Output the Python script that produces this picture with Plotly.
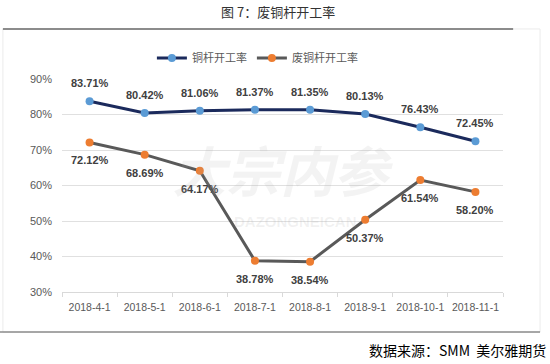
import plotly.graph_objects as go

categories = ["2018-4-1", "2018-5-1", "2018-6-1", "2018-7-1", "2018-8-1", "2018-9-1", "2018-10-1", "2018-11-1"]
copper_rod = [83.71, 80.42, 81.06, 81.37, 81.35, 80.13, 76.43, 72.45]
scrap_rod = [72.12, 68.69, 64.17, 38.78, 38.54, 50.37, 61.54, 58.20]
y_ticks = [30, 40, 50, 60, 70, 80, 90]
y_tick_labels = [f"{v}%" for v in y_ticks]

font_fam = "Liberation Sans, Noto Sans CJK SC, sans-serif"
cjk = "Noto Sans CJK SC, sans-serif"

fig = go.Figure()
fig.add_trace(go.Scatter(
    x=categories, y=copper_rod, name="铜杆开工率", mode="lines+markers",
    line=dict(color="#1B2A5C", width=3),
    marker=dict(color="#5B9BD5", size=8),
    cliponaxis=False,
))
fig.add_trace(go.Scatter(
    x=categories, y=scrap_rod, name="废铜杆开工率", mode="lines+markers",
    line=dict(color="#595959", width=3),
    marker=dict(color="#ED7D31", size=8),
    cliponaxis=False,
))

label_font = dict(size=11, color="#404040", family=font_fam, weight="bold")
for c, v in zip(categories, copper_rod):
    fig.add_annotation(x=c, y=v, text=f"{v:.2f}%", showarrow=False, yshift=18,
                       xanchor="center", yanchor="middle", font=label_font)
for c, v in zip(categories, scrap_rod):
    fig.add_annotation(x=c, y=v, text=f"{v:.2f}%", showarrow=False, yshift=-18,
                       xanchor="center", yanchor="middle", font=label_font)

fig.update_layout(
    width=550, height=364,
    margin=dict(l=62, r=47, t=79, b=72, autoexpand=False),
    paper_bgcolor="white", plot_bgcolor="white",
    showlegend=True,
    legend=dict(orientation="h", x=0.468, xref="container", xanchor="center",
                y=1 - 58 / 364, yref="container", yanchor="middle",
                font=dict(size=11, color="#595959", family=cjk),
                tracegroupgap=0, bgcolor="rgba(0,0,0,0)"),
    xaxis=dict(type="category", range=[-0.5, 7.5], showgrid=False, showline=True,
               linecolor="#D9D9D9", linewidth=1, ticks="outside", ticklen=4,
               tickcolor="#D9D9D9", tickson="boundaries", tickangle=0, automargin=False,
               ticklabelstandoff=5,
               tickfont=dict(size=10.5, color="#595959", family=font_fam)),
    yaxis=dict(range=[30, 90], tickvals=y_ticks, ticktext=y_tick_labels,
               showgrid=True, gridcolor="#E0E0E0", gridwidth=1, zeroline=False,
               showline=False, ticks="", ticklabelstandoff=9, automargin=False,
               tickfont=dict(size=11, color="#595959", family=font_fam)),
    font=dict(family=font_fam),
)

# chart frame
fig.add_shape(type="rect", xref="paper", yref="paper", x0=-0.134, x1=1.084,
              y0=-0.188, y1=1.235, line=dict(color="#EBEBEB", width=1), layer="below")
fig.add_shape(type="line", xref="paper", yref="paper", x0=-0.134, x1=1.023,
              y0=1.235, y1=1.235, line=dict(color="#8C8C8C", width=2), layer="below")
fig.add_shape(type="line", xref="paper", yref="paper", x0=-0.15, x1=1.084,
              y0=-0.188, y1=-0.188, line=dict(color="#8C8C8C", width=1.5), layer="below")

# faint watermark
fig.add_annotation(text="<i>大宗内参</i>", xref="paper", yref="paper",
                   x=0.5, y=0.58, xanchor="center", yanchor="middle", showarrow=False,
                   font=dict(size=54, color="rgba(170,170,170,0.14)", family=cjk, weight="bold"))
fig.add_annotation(text="DAZONGNEICAN", xref="paper", yref="paper",
                   x=0.53, y=0.33, xanchor="center", yanchor="middle", showarrow=False,
                   font=dict(size=15, color="rgba(170,170,170,0.16)", family=font_fam, weight="bold"))

fig.add_annotation(text="图 7：废铜杆开工率", xref="paper", yref="paper",
                   x=0.49, y=1.319, xanchor="center", yanchor="middle", showarrow=False,
                   font=dict(size=13, color="#333333", family=cjk))
fig.add_annotation(text="数据来源：SMM  美尔雅期货", xref="paper", yref="paper",
                   x=1.102, y=-0.272, xanchor="right", yanchor="middle", showarrow=False,
                   font=dict(size=14, color="#000000", family=cjk))

fig.write_html("out.html", config={"displayModeBar": False},
               post_script="document.body.style.margin='0';")
